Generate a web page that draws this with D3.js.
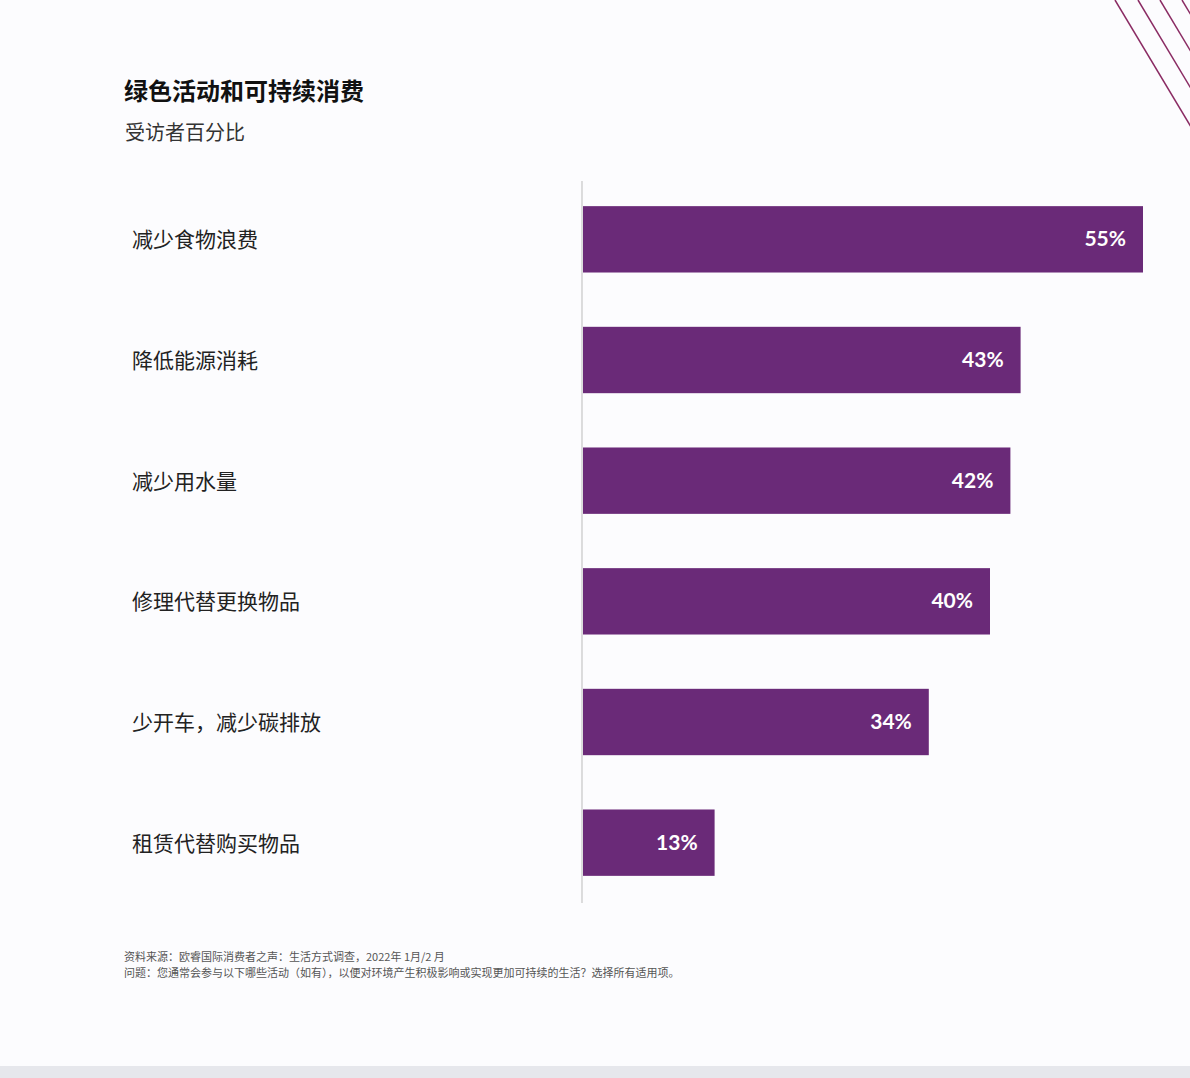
<!DOCTYPE html><html><head><meta charset="utf-8"><script src="https://d3js.org/d3.v7.min.js"></script>
<style>body{margin:0;background:#fcfcfe}</style></head><body><div id="c"></div><script>
const categories=["减少食物浪费","降低能源消耗","减少用水量","修理代替更换物品","少开车，减少碳排放","租赁代替购买物品"];
const values=[55,43,42,40,34,13];
const W=1190,H=1078;
const svg=d3.select("#c").append("svg").attr("width",W).attr("height",H);
svg.append("rect").attr("width",W).attr("height",H).attr("fill","#fcfcfe");
svg.append("rect").attr("y",1066).attr("width",W).attr("height",12).attr("fill","#e6e7ec");
const font="'Noto Sans CJK SC',sans-serif";
[1115,1138,1160,1182].forEach(x0=>{svg.append("line").attr("x1",x0).attr("y1",0).attr("x2",x0+100).attr("y2",167).attr("stroke","#8a2b63").attr("stroke-width",1.5);});
svg.append("text").attr("x",124).attr("y",100).text("绿色活动和可持续消费").attr("font-family",font).attr("font-size",24).attr("font-weight",700).attr("fill","#111");
svg.append("text").attr("x",125).attr("y",140).text("受访者百分比").attr("font-family",font).attr("font-size",20).attr("fill","#333");
const x=d3.scaleLinear().domain([0,55]).range([582,1143]);
const y=d3.scaleBand().domain(categories).range([179,903]).paddingInner(0.45).paddingOuter(0.225);
svg.append("line").attr("x1",582).attr("x2",582).attr("y1",181).attr("y2",903).attr("stroke","#bbb");
const g=svg.selectAll("g.b").data(categories).join("g");
g.append("rect").attr("x",x(0)+1).attr("y",d=>y(d)).attr("height",y.bandwidth()).attr("width",(d,i)=>x(values[i])-x(0)-1).attr("fill","#6a2a78");
g.append("text").attr("x",(d,i)=>x(values[i])-17).attr("y",d=>y(d)+y.bandwidth()/2+7).attr("text-anchor","end").text((d,i)=>values[i]+"%").attr("font-family","Lato,sans-serif").attr("font-weight",700).attr("font-size",21).attr("fill","#fff");
g.append("text").attr("x",132).attr("y",d=>y(d)+y.bandwidth()/2+8).text(d=>d).attr("font-family",font).attr("font-size",21).attr("fill","#222");
svg.append("text").attr("x",124).attr("y",961).text("资料来源：欧睿国际消费者之声：生活方式调查，2022年 1月/2 月").attr("font-family",font).attr("font-size",11).attr("fill","#555");
svg.append("text").attr("x",124).attr("y",977).text("问题：您通常会参与以下哪些活动（如有），以便对环境产生积极影响或实现更加可持续的生活？选择所有适用项。").attr("font-family",font).attr("font-size",11).attr("fill","#555");
</script></body></html>
